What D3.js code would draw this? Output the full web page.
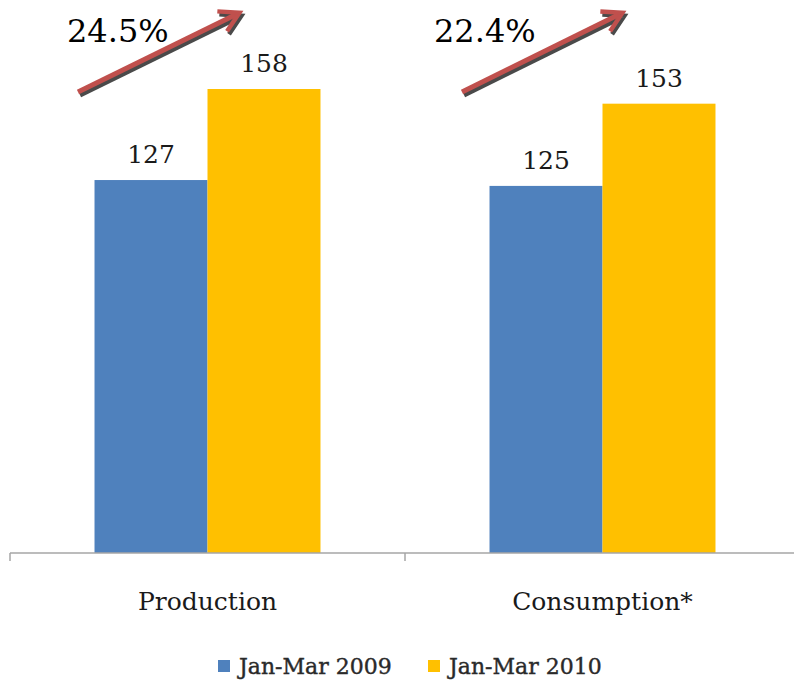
<!DOCTYPE html>
<html>
<head>
<meta charset="utf-8">
<script src="https://cdn.jsdelivr.net/npm/d3@7"></script>
<style>
  html, body { margin: 0; padding: 0; background: #fff; }
  svg { display: block; }
</style>
</head>
<body>
<svg id="chart" width="794" height="681"></svg>
<script>
// Quarterly volumes, first quarter of each year
const categories = ["Production", "Consumption*"];
const seriesNames = ["Jan-Mar 2009", "Jan-Mar 2010"];
const values2009 = [127, 125];
const values2010 = [158, 153];
const growthLabels = ["24.5%", "22.4%"];

const colors = ["#4f81bd", "#ffc000"];
const serif = "'DejaVu Serif', serif";

const svg = d3.select("#chart");
const W = 794;
const baseY = 553;

const x0 = d3.scaleBand().domain(categories).range([10, 800]).paddingInner(0).paddingOuter(0);
const x1 = d3.scaleBand().domain(seriesNames).range([0, x0.bandwidth()]).paddingInner(0).paddingOuter(0.748);
const y = d3.scaleLinear().domain([0, 158]).range([baseY, 89]);

const rows = categories.map((c, i) => ({ cat: c, vals: [values2009[i], values2010[i]] }));

// bars
const groups = svg.selectAll("g.grp").data(rows).join("g")
  .attr("class", "grp")
  .attr("transform", d => `translate(${x0(d.cat)},0)`);

groups.selectAll("rect").data(d => d.vals.map((v, j) => ({ v, s: seriesNames[j], j })))
  .join("rect")
  .attr("x", d => x1(d.s))
  .attr("y", d => y(d.v))
  .attr("width", x1.bandwidth())
  .attr("height", d => baseY - y(d.v))
  .attr("fill", d => colors[d.j]);

// value labels
groups.selectAll("text.val").data(d => d.vals.map((v, j) => ({ v, s: seriesNames[j] })))
  .join("text")
  .attr("class", "val")
  .attr("x", d => x1(d.s) + x1.bandwidth() / 2)
  .attr("y", d => y(d.v) - 17)
  .attr("text-anchor", "middle")
  .attr("font-family", serif)
  .attr("font-size", 25)
  .attr("fill", "#1a1a1a")
  .text(d => d.v);

// category axis
const axis = svg.append("g").attr("transform", `translate(0,${baseY})`);
axis.append("line").attr("x1", 10).attr("x2", W).attr("y1", 0).attr("y2", 0)
  .attr("stroke", "#a6a6a6").attr("stroke-width", 1.5);
[10, x0(categories[1])].forEach(t => {
  axis.append("line").attr("x1", t).attr("x2", t).attr("y1", 0).attr("y2", 8)
    .attr("stroke", "#a6a6a6").attr("stroke-width", 1.5);
});
axis.selectAll("text.cat").data(categories).join("text")
  .attr("class", "cat")
  .attr("x", d => x0(d) + x1(seriesNames[1]))
  .attr("y", 57)
  .attr("text-anchor", "middle")
  .attr("font-family", serif)
  .attr("font-size", 25)
  .attr("fill", "#1a1a1a")
  .text(d => d);

// growth arrows with a drop shadow
const defs = svg.append("defs");
function marker(id, color) {
  defs.append("marker").attr("id", id)
    .attr("viewBox", "0 0 10 10").attr("refX", 7).attr("refY", 5)
    .attr("markerWidth", 5.5).attr("markerHeight", 5.5)
    .attr("markerUnits", "strokeWidth")
    .attr("orient", "auto")
    .append("path").attr("d", "M1,1 L8,5 L1,9").attr("fill", "none")
    .attr("stroke", color).attr("stroke-width", 1.6).attr("stroke-linejoin", "miter");
}
marker("headShadow", "#4a4a4a");
marker("headRed", "#c0504d");

// per-group placement of the arrow and its growth label, relative to the band start
const arrowOffsets = [{ tail: 68, tip: 227, text: 57 }, { tail: 57, tip: 215, text: 29 }];

rows.forEach((r, i) => {
  const cx = x0(r.cat);
  const o = arrowOffsets[i];
  const xa = cx + o.tail, ya = 92, xb = cx + o.tip, yb = 14;
  svg.append("line")
    .attr("x1", xa + 2).attr("y1", ya + 3).attr("x2", xb + 2).attr("y2", yb + 3)
    .attr("stroke", "#4a4a4a").attr("stroke-width", 5)
    .attr("marker-end", "url(#headShadow)");
  svg.append("line")
    .attr("x1", xa).attr("y1", ya).attr("x2", xb).attr("y2", yb)
    .attr("stroke", "#c0504d").attr("stroke-width", 5)
    .attr("marker-end", "url(#headRed)");
  svg.append("text")
    .attr("x", cx + o.text).attr("y", 42)
    .attr("font-family", serif)
    .attr("font-size", 32)
    .attr("fill", "#000")
    .text(growthLabels[i]);
});

// legend
const legend = svg.append("g").attr("transform", "translate(218,666)");
const items = [{ name: seriesNames[0], x: 0 }, { name: seriesNames[1], x: 210 }];
items.forEach((it, j) => {
  legend.append("rect").attr("x", it.x).attr("y", -6).attr("width", 12).attr("height", 12)
    .attr("fill", colors[j]);
  legend.append("text").attr("x", it.x + 21).attr("y", 8)
    .attr("font-family", serif)
    .attr("font-size", 22)
    .attr("fill", "#2a2a2a")
    .attr("stroke", "#2a2a2a")
    .attr("stroke-width", 0.4)
    .text(it.name);
});
</script>
</body>
</html>
